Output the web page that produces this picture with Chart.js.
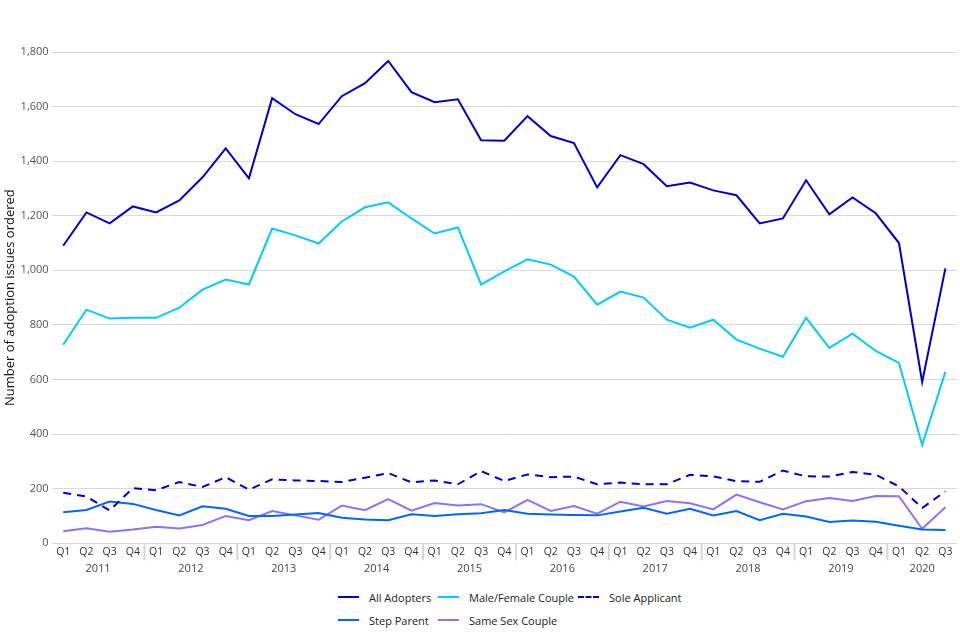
<!DOCTYPE html>
<html>
<head>
<meta charset="utf-8">
<script src="https://cdn.jsdelivr.net/npm/chart.js@4"></script>
<style>
  html, body { margin: 0; padding: 0; background: #fff; }
  #wrap { position: relative; width: 960px; height: 640px; }
  #box { position: absolute; left: 0; top: 0; width: 960px; height: 575px; }
  #legend {
    position: absolute; left: 338px; top: 588px;
    display: grid; grid-template-columns: 100px 140px auto; row-gap: 5px;
    font-family: "Open Sans", sans-serif; font-size: 11px; color: #222;
  }
  .item { display: flex; align-items: center; height: 18px; }
  .swatch { width: 21px; height: 0; border-top: 2px solid; margin-right: 10px; }
</style>
</head>
<body>
<div id="wrap">
  <div id="box"><canvas id="adoptChart"></canvas></div>
  <div id="legend"></div>
</div>
<script>
const years = ['2011', '2012', '2013', '2014', '2015', '2016', '2017', '2018', '2019', '2020'];
const quarters = ['Q1', 'Q2', 'Q3', 'Q4'];
const yTicks = [0, 200, 400, 600, 800, 1000, 1200, 1400, 1600, 1800];

const allAdopters = [1090, 1212, 1172, 1234, 1212, 1256, 1341, 1447, 1337, 1631, 1572, 1536, 1638, 1686, 1767, 1653,
  1616, 1627, 1477, 1475, 1565, 1492, 1466, 1304, 1422, 1389, 1308, 1322, 1293, 1275, 1172, 1190,
  1330, 1205, 1267, 1209, 1100, 591, 1007];
const maleFemale = [727, 856, 823, 826, 826, 863, 929, 966, 948, 1153, 1128, 1098, 1179, 1231, 1249, 1190,
  1135, 1157, 948, 996, 1040, 1021, 977, 874, 922, 900, 819, 790, 819, 746, 713, 683,
  826, 716, 768, 705, 661, 360, 628];
const soleApplicant = [185, 171, 120, 202, 194, 224, 206, 242, 196, 234, 230, 228, 224, 240, 257, 223,
  230, 216, 264, 228, 252, 242, 244, 216, 222, 216, 216, 251, 245, 227, 225, 266,
  245, 244, 261, 251, 208, 129, 190];
const stepParent = [113, 122, 153, 144, 122, 102, 135, 126, 100, 100, 105, 111, 93, 87, 84, 106,
  100, 106, 110, 122, 108, 105, 103, 102, 116, 130, 108, 126, 102, 118, 84, 108,
  98, 78, 83, 79, 64, 50, 48];
const sameSex = [44, 55, 42, 50, 60, 54, 67, 100, 84, 118, 102, 86, 138, 121, 162, 119,
  147, 138, 143, 113, 159, 118, 136, 108, 152, 135, 155, 146, 124, 178, 150, 124,
  154, 166, 155, 173, 172, 53, 132];

// one label per quarter, stopping where the data stops
const periods = years.flatMap(y => quarters.map(q => ({ year: y, q: q }))).slice(0, allAdopters.length);
const labels = periods.map(p => p.q);

// year label sits in the middle of its quarters
const yearCentres = years.map(y => {
  const idx = periods.map((p, i) => p.year === y ? i : -1).filter(i => i >= 0);
  return (idx[0] + idx[idx.length - 1]) / 2;
});
// index of the first quarter of each year after the first
const yearStarts = periods.map((p, i) => (i > 0 && p.year !== periods[i - 1].year) ? i : -1).filter(i => i > 0);

const font = "'Open Sans', sans-serif";

const datasets = [
  { label: 'All Adopters', data: allAdopters, borderColor: '#0000cc' },
  { label: 'Male/Female Couple', data: maleFemale, borderColor: '#00ccff' },
  { label: 'Sole Applicant', data: soleApplicant, borderColor: '#0000cc', borderDash: [8, 6] },
  { label: 'Step Parent', data: stepParent, borderColor: '#0066ff' },
  { label: 'Same Sex Couple', data: sameSex, borderColor: '#8f70ff' }
].map(d => ({ ...d, borderWidth: 2, pointRadius: 0, fill: false, tension: 0 }));

// short grey separators between years, in the quarter label row
const yearSeparators = {
  id: 'yearSeparators',
  afterDraw(c) {
    const x = c.scales.x;
    const g = c.ctx;
    g.save();
    g.strokeStyle = '#d6d6d6';
    g.lineWidth = 2;
    yearStarts.forEach(i => {
      const px = (x.getPixelForTick(i - 1) + x.getPixelForTick(i)) / 2;
      g.beginPath();
      g.moveTo(px, c.chartArea.bottom);
      g.lineTo(px, c.chartArea.bottom + 17);
      g.stroke();
    });
    g.restore();
  }
};

const ctx = document.getElementById('adoptChart').getContext('2d');
const chart = new Chart(ctx, {
  type: 'line',
  data: { labels: labels, datasets: datasets },
  plugins: [yearSeparators],
  options: {
    responsive: true,
    maintainAspectRatio: false,
    animation: false,
    layout: { padding: { top: 52, right: 3, left: 2, bottom: 0 } },
    plugins: { legend: { display: false }, tooltip: { enabled: false } },
    scales: {
      x: {
        offset: true,
        grid: { display: false, drawTicks: false },
        border: { display: false },
        ticks: { color: '#333', font: { family: font, size: 10.5 }, padding: 3, autoSkip: false, maxRotation: 0 }
      },
      yr: {
        type: 'linear',
        position: 'bottom',
        min: -0.5,
        max: labels.length - 0.5,
        grid: { display: false, drawTicks: false },
        border: { display: false },
        afterBuildTicks: s => { s.ticks = yearCentres.map(v => ({ value: v })); },
        ticks: {
          color: '#444', font: { family: font, size: 11 }, padding: 0, maxRotation: 0, autoSkip: false,
          callback: (v, i) => years[i]
        }
      },
      y: {
        min: 0,
        max: 1800,
        afterBuildTicks: s => { s.ticks = yTicks.map(v => ({ value: v })); },
        grid: { color: '#d9d9d9', drawTicks: false },
        border: { display: false },
        ticks: { color: '#555', font: { family: font, size: 11 }, padding: 3 },
        title: { display: true, text: 'Number of adoption issues ordered', color: '#111', font: { family: font, size: 13 }, padding: 0 }
      }
    }
  }
});

// legend in a three-column grid built from the chart's own datasets
const legendEl = document.getElementById('legend');
chart.data.datasets.forEach(d => {
  const item = document.createElement('div');
  item.className = 'item';
  const sw = document.createElement('span');
  sw.className = 'swatch';
  sw.style.borderTopColor = d.borderColor;
  if (d.borderDash) sw.style.borderTopStyle = 'dashed';
  const txt = document.createElement('span');
  txt.textContent = d.label;
  item.appendChild(sw);
  item.appendChild(txt);
  legendEl.appendChild(item);
});
</script>
</body>
</html>
